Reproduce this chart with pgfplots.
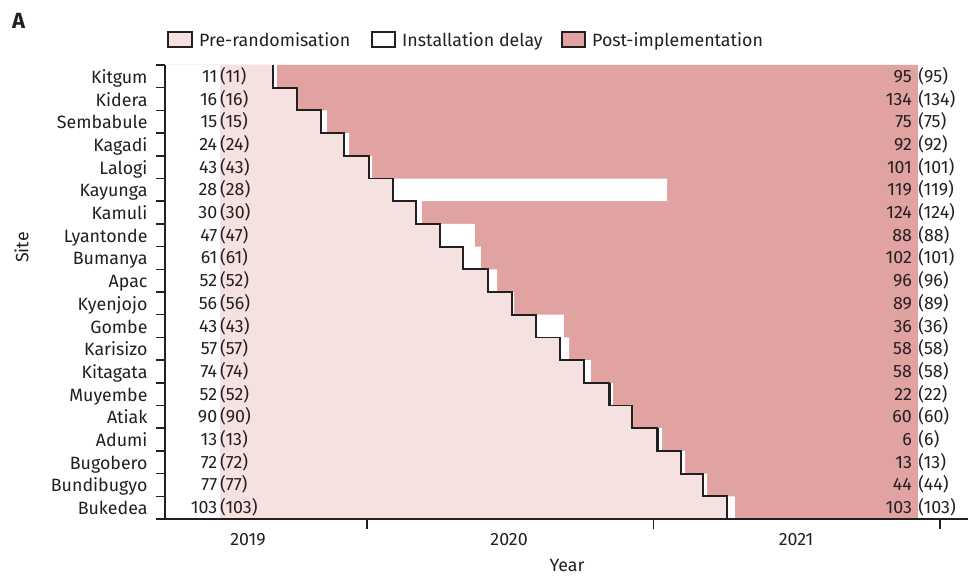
\documentclass[border=0pt]{standalone}
\usepackage{pgfplots}
\pgfplotsset{compat=1.18}
\usepackage{pgfplotstable}
\usepackage{fontspec}
\setmainfont{Fira Sans}
\definecolor{prepink}{HTML}{F5E1DF}
\definecolor{postpink}{HTML}{E0A3A1}
\definecolor{ink}{HTML}{231F20}
\newcommand\fsz{\fontsize{17.8pt}{21pt}\selectfont}

% time axis in months since 1 Jan 2019
\pgfplotstableread{
y    site       nl  pl    nr  pr    rand  inst  start end
19.5 Kitgum     11  (11)  95  (95)  8.06  8.23  5.84  35.08
18.5 Kidera     16  (16)  134 (134) 9.07  9.11  5.84  35.08
17.5 Sembabule  15  (15)  75  (75)  10.07 10.32 5.84  35.08
16.5 Kagadi     24  (24)  92  (92)  11.04 11.25 5.84  35.08
15.5 Lalogi     43  (43)  101 (101) 12.08 12.21 5.84  35.08
14.5 Kayunga    28  (28)  119 (119) 13.09 24.57 5.84  35.08
13.5 Kamuli     30  (30)  124 (124) 14.05 14.30 5.84  35.08
12.5 Lyantonde  47  (47)  88  (88)  15.06 16.52 5.84  35.08
11.5 Bumanya    61  (61)  102 (101) 16.02 16.77 5.84  35.08
10.5 Apac       52  (52)  96  (96)  17.07 17.45 5.84  35.08
9.5  Kyenjojo   56  (56)  89  (89)  18.07 18.16 5.84  35.08
8.5  Gombe      43  (43)  36  (36)  19.08 20.25 5.84  35.08
7.5  Karisizo   57  (57)  58  (58)  20.08 20.46 5.84  35.08
6.5  Kitagata   74  (74)  58  (58)  21.09 21.38 5.84  35.08
5.5  Muyembe    52  (52)  22  (22)  22.14 22.30 5.84  35.08
4.5  Atiak      90  (90)  60  (60)  23.10 23.14 5.84  35.08
3.5  Adumi      13  (13)  6   (6)   24.15 24.36 5.84  35.08
2.5  Bugobero   72  (72)  13  (13)  25.15 25.32 5.84  35.08
1.5  Bundibugyo 77  (77)  44  (44)  26.07 26.24 5.84  35.08
0.5  Bukedea    103 (103) 103 (103) 27.08 27.41 5.84  35.08
}\data

\begin{document}
\begin{tikzpicture}
\useasboundingbox (0pt,0pt) rectangle (977pt,579pt);
\begin{axis}[
  at={(165pt,60pt)}, anchor=south west,
  scale only axis, width=803pt, height=454pt,
  xmin=3.54, xmax=37.17, ymin=0, ymax=20,
  axis x line*=bottom, axis y line*=left,
  axis line style={ink, line width=1.5pt},
  axis on top,
  tick align=outside,
  major tick length=10pt, minor tick length=9pt,
  every tick/.style={ink, line width=1.5pt},
  xtick={12,24,36}, xticklabels={},
  extra x ticks={7.02,17.95,29.97},
  extra x tick labels={2019,2020,2021},
  extra x tick style={major tick length=0pt},
  xticklabel style={anchor=base, yshift=-26pt},
  ytick={0.5,1.5,...,19.5},
  yticklabels={Bukedea,Bundibugyo,Bugobero,Adumi,Atiak,Muyembe,Kitagata,Karisizo,Gombe,Kyenjojo,Apac,Bumanya,Lyantonde,Kamuli,Kayunga,Lalogi,Kagadi,Sembabule,Kidera,Kitgum},
  every major y tick/.style={draw=none},
  minor ytick={0,1,...,20},
  tick label style={font=\fsz, text=ink},
  yticklabel style={anchor=base east, yshift=-7pt, xshift=-4pt},
  xlabel={Year}, ylabel={Site},
  label style={font=\fsz, text=ink},
  xlabel style={at={(axis description cs:0.5006,-0.1167)}, anchor=base},
  ylabel style={at={(axis description cs:-0.1787,0.598)}, anchor=center},
]
% post-implementation (to end of follow-up)
\addplot[xbar, bar width=1, bar shift=0pt, fill=postpink, draw=none] table[x=end, y=y] {\data};
% installation delay (to end of installation)
\addplot[xbar, bar width=1, bar shift=0pt, fill=white, draw=none] table[x=inst, y=y] {\data};
% pre-randomisation (to randomisation)
\addplot[xbar, bar width=1, bar shift=0pt, fill=prepink, draw=none] table[x=rand, y=y] {\data};
% blank before start of data collection
\addplot[xbar, bar width=1, bar shift=0pt, fill=white, draw=none] table[x=start, y=y] {\data};
% randomisation staircase
\addplot[ink, line width=1.8pt, mark=none] coordinates {
(8.06,20)(8.06,19)(9.07,19)(9.07,18)(10.07,18)(10.07,17)(11.04,17)(11.04,16)
(12.08,16)(12.08,15)(13.09,15)(13.09,14)(14.05,14)(14.05,13)(15.06,13)(15.06,12)
(16.02,12)(16.02,11)(17.07,11)(17.07,10)(18.07,10)(18.07,9)(19.08,9)(19.08,8)
(20.08,8)(20.08,7)(21.09,7)(21.09,6)(22.14,6)(22.14,5)(23.10,5)(23.10,4)
(24.15,4)(24.15,3)(25.15,3)(25.15,2)(26.07,2)(26.07,1)(27.08,1)(27.08,0)};
% thicker randomisation verticals
\addplot[only marks, mark=|, mark size=11.35pt, mark options={draw=ink, line width=2.8pt}] table[x=rand, y=y] {\data};
% counts
\addplot[draw=none, mark=none, point meta=explicit symbolic, nodes near coords,
  nodes near coords style={font=\fsz, text=ink, anchor=base east, inner xsep=2.5pt, inner ysep=0pt, yshift=-6pt}]
  table[x=start, y=y, meta=nl] {\data};
\addplot[draw=none, mark=none, point meta=explicit symbolic, nodes near coords,
  nodes near coords style={font=\fsz, text=ink, anchor=base west, inner xsep=0pt, inner ysep=0pt, yshift=-6pt}]
  table[x=start, y=y, meta=pl] {\data};
\addplot[draw=none, mark=none, point meta=explicit symbolic, nodes near coords,
  nodes near coords style={font=\fsz, text=ink, anchor=base east, inner xsep=6pt, inner ysep=0pt, yshift=-6pt}]
  table[x=end, y=y, meta=nr] {\data};
\addplot[draw=none, mark=none, point meta=explicit symbolic, nodes near coords,
  nodes near coords style={font=\fsz, text=ink, anchor=base west, inner xsep=0pt, inner ysep=0pt, yshift=-6pt}]
  table[x=end, y=y, meta=pr] {\data};
\end{axis}
% panel letter
\node[anchor=base west, inner sep=0pt, font=\fontsize{22pt}{26pt}\selectfont\bfseries, text=ink] at (12pt,550pt) {A};
% legend
\draw[ink, line width=1.2pt, fill=prepink] (168pt,532pt) rectangle (192pt,547pt);
\node[anchor=base west, inner sep=0pt, font=\fsz, text=ink] at (199pt,532pt) {Pre-randomisation};
\draw[ink, line width=1.2pt, fill=white] (372pt,532pt) rectangle (395pt,547pt);
\node[anchor=base west, inner sep=0pt, font=\fsz, text=ink] at (402pt,532pt) {Installation delay};
\draw[ink, line width=1.2pt, fill=postpink] (562pt,532pt) rectangle (585pt,547pt);
\node[anchor=base west, inner sep=0pt, font=\fsz, text=ink] at (592pt,532pt) {Post-implementation};
\end{tikzpicture}
\end{document}
